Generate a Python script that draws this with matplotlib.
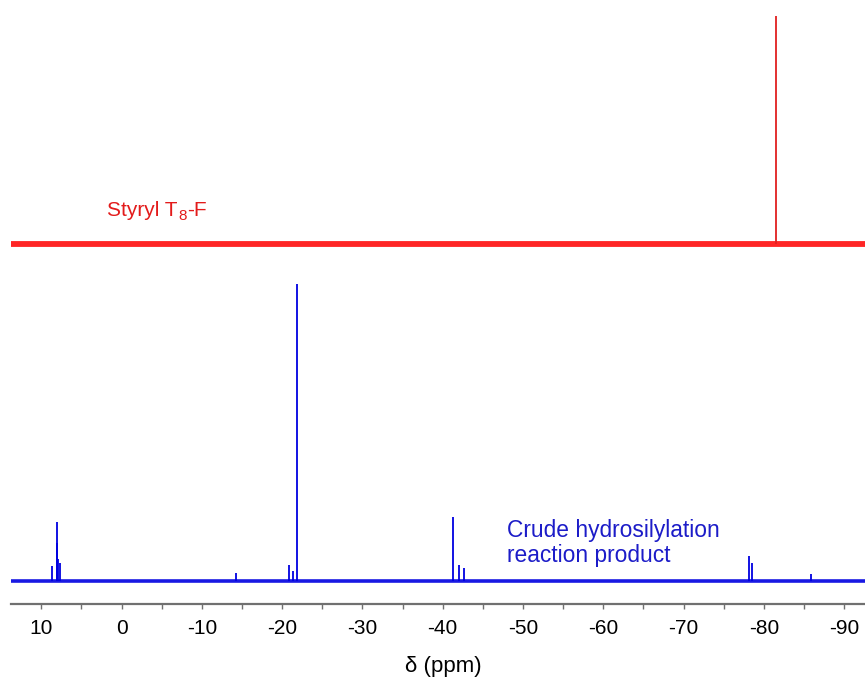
import matplotlib
matplotlib.use("Agg")
import matplotlib.pyplot as plt
import numpy as np

plt.rcParams['font.family'] = ['Liberation Sans', 'DejaVu Sans']

# ---- data (ppm positions, relative intensities) ----
blue_ppm = [8.67, 8.08, 8.00, 7.92, 7.67, -14.2, -20.9, -21.4, -21.82,
            -41.3, -42.0, -42.7, -78.1, -78.5, -85.9]
blue_int = [5.1, 19.9, 12.8, 7.4, 6.1, 2.7, 5.4, 3.4, 100.0,
            21.5, 5.4, 4.4, 8.4, 6.1, 2.4]
red_ppm = [-81.5]
red_int = [76.8]
red_offset = 113.5
xticks_major = [10, 0, -10, -20, -30, -40, -50, -60, -70, -80, -90]
xticks_minor = [5, -5, -15, -25, -35, -45, -55, -65, -75, -85]
x_range = (13.81, -92.6)

W, H = 865, 680
fig = plt.figure(figsize=(W / 100, H / 100), dpi=100)
ax = fig.add_axes([10.7 / W, (H - 604.3) / H, (W - 10.7) / W, 604.3 / H])
ax.set_xlim(*x_range)
ax.set_ylim(-7.85, 195.6)

blue = '#0000e0'
red = '#ff0000'

# baselines (noise band rendered as thick baseline)
ax.plot(x_range, [0, 0], color=blue, lw=2.6, alpha=0.9, solid_capstyle='butt')
ax.plot(x_range, [red_offset, red_offset], color=red, lw=4.2, alpha=0.85,
        solid_capstyle='butt')

# peaks
ax.vlines(blue_ppm, 0, blue_int, color=blue, lw=1.3)
ax.vlines(red_ppm, red_offset, np.array(red_int) + red_offset, color='#e02020', lw=1.3)

# axes styling
for s in ['top', 'right', 'left']:
    ax.spines[s].set_visible(False)
ax.spines['bottom'].set_color('#707070')
ax.spines['bottom'].set_linewidth(1.6)
ax.set_yticks([])
ax.set_xticks(xticks_major)
ax.set_xticklabels([str(t) for t in xticks_major])
ax.set_xticks(xticks_minor, minor=True)
ax.tick_params(axis='x', which='both', direction='out', length=3.6, width=1.0,
               color='#707070', labelsize=15, pad=7)
ax.patch.set_alpha(0)

# labels
fig.text(443 / W, 1 - 672 / H, 'δ (ppm)', ha='center', va='baseline', fontsize=16)

red_txt = '#e31b1b'
fig.canvas.draw()
renderer = fig.canvas.get_renderer()
t1 = fig.text(107 / W, 1 - 216 / H, 'Styryl T', ha='left', va='baseline',
              fontsize=15, color=red_txt)
bb = t1.get_window_extent(renderer)
x1 = bb.x1 / W
t2 = fig.text(x1 + 0.5 / W, 1 - 220 / H, '8', ha='left', va='baseline',
              fontsize=11, color=red_txt)
bb2 = t2.get_window_extent(renderer)
fig.text(bb2.x1 / W + 0.5 / W, 1 - 216 / H, '-F', ha='left', va='baseline',
         fontsize=15, color=red_txt)

fig.text(507 / W, 1 - 537 / H, 'Crude hydrosilylation', ha='left', va='baseline',
         fontsize=16.4, color='#1c1cc8')
fig.text(507 / W, 1 - 562 / H, 'reaction product', ha='left', va='baseline',
         fontsize=16.4, color='#1c1cc8')

fig.savefig('out.png', dpi=100)
